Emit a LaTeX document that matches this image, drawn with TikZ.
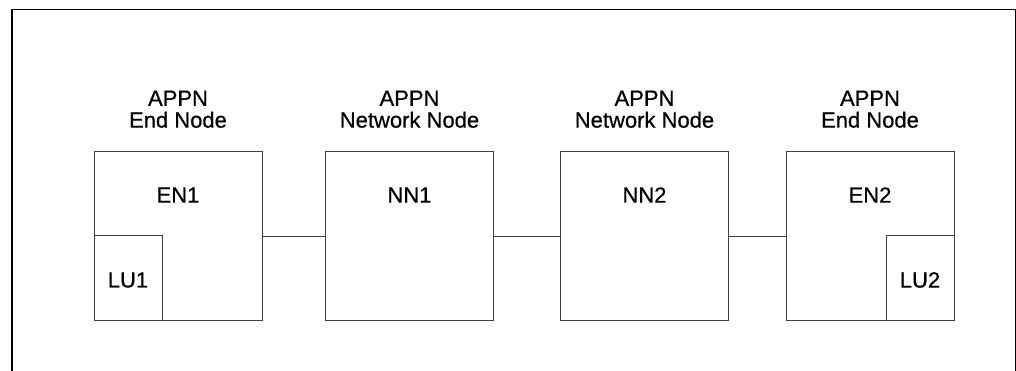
\documentclass[tikz,border=0pt]{standalone}
\usepackage{fontspec}
\setmainfont{Liberation Sans}[BoldFont=Liberation Sans,BoldFeatures={FakeBold=0.6}]
\usetikzlibrary{positioning}
\begin{document}
\begin{tikzpicture}[x=1pt,y=-1pt,
  nodebox/.style={draw=black!75,line width=0.9pt,minimum width=168pt,minimum height=169pt,inner sep=0pt},
  lubox/.style={draw=black!75,line width=0.9pt,minimum width=68pt,minimum height=85pt,inner sep=0pt},
  txt/.style={font=\fontsize{22}{26}\selectfont\bfseries,inner sep=0pt},
  hdr/.style={txt,anchor=base},
  link/.style={draw=black!75,line width=0.9pt}]
\useasboundingbox (0,0) rectangle (1016,371);
% outer frame, open at the bottom
\draw[line width=1.2pt] (12,371) -- (12,9.5) -- (1015.5,9.5) -- (1015.5,371);

% the four APPN nodes
\node[nodebox] (EN1) at (178,236.2) {};
\node[nodebox] (NN1) at (409.5,236.2) {};
\node[nodebox] (NN2) at (644.5,236.2) {};
\node[nodebox] (EN2) at (870,236.2) {};

% logical units in the end nodes
\node[lubox,anchor=south west] (LU1) at (EN1.south west) {};
\node[lubox,anchor=south east] (LU2) at (EN2.south east) {};

% names
\node[txt] (en1t) at (178,195) {EN1};
\node[txt] (nn1t) at (409.5,195) {NN1};
\node[txt] (nn2t) at (644.5,195) {NN2};
\node[txt] (en2t) at (870,195) {EN2};
\node[txt] (lu1t) at (LU1.center |- 0,280) {LU1};
\node[txt] (lu2t) at (LU2.center |- 0,280) {LU2};

% node type headings
\node[hdr] (h1a) at (178,105.8) {APPN};
\node[hdr] (h1b) at (178,127.6) {End Node};
\node[hdr] (h2a) at (409.5,105.8) {APPN};
\node[hdr] (h2b) at (409.5,127.6) {Network Node};
\node[hdr] (h3a) at (644.5,105.8) {APPN};
\node[hdr] (h3b) at (644.5,127.6) {Network Node};
\node[hdr] (h4a) at (870,105.8) {APPN};
\node[hdr] (h4b) at (870,127.6) {End Node};

% links
\draw[link] (EN1.east) -- (NN1.west);
\draw[link] (NN1.east) -- (NN2.west);
\draw[link] (NN2.east) -- (EN2.west);
\end{tikzpicture}
\end{document}
